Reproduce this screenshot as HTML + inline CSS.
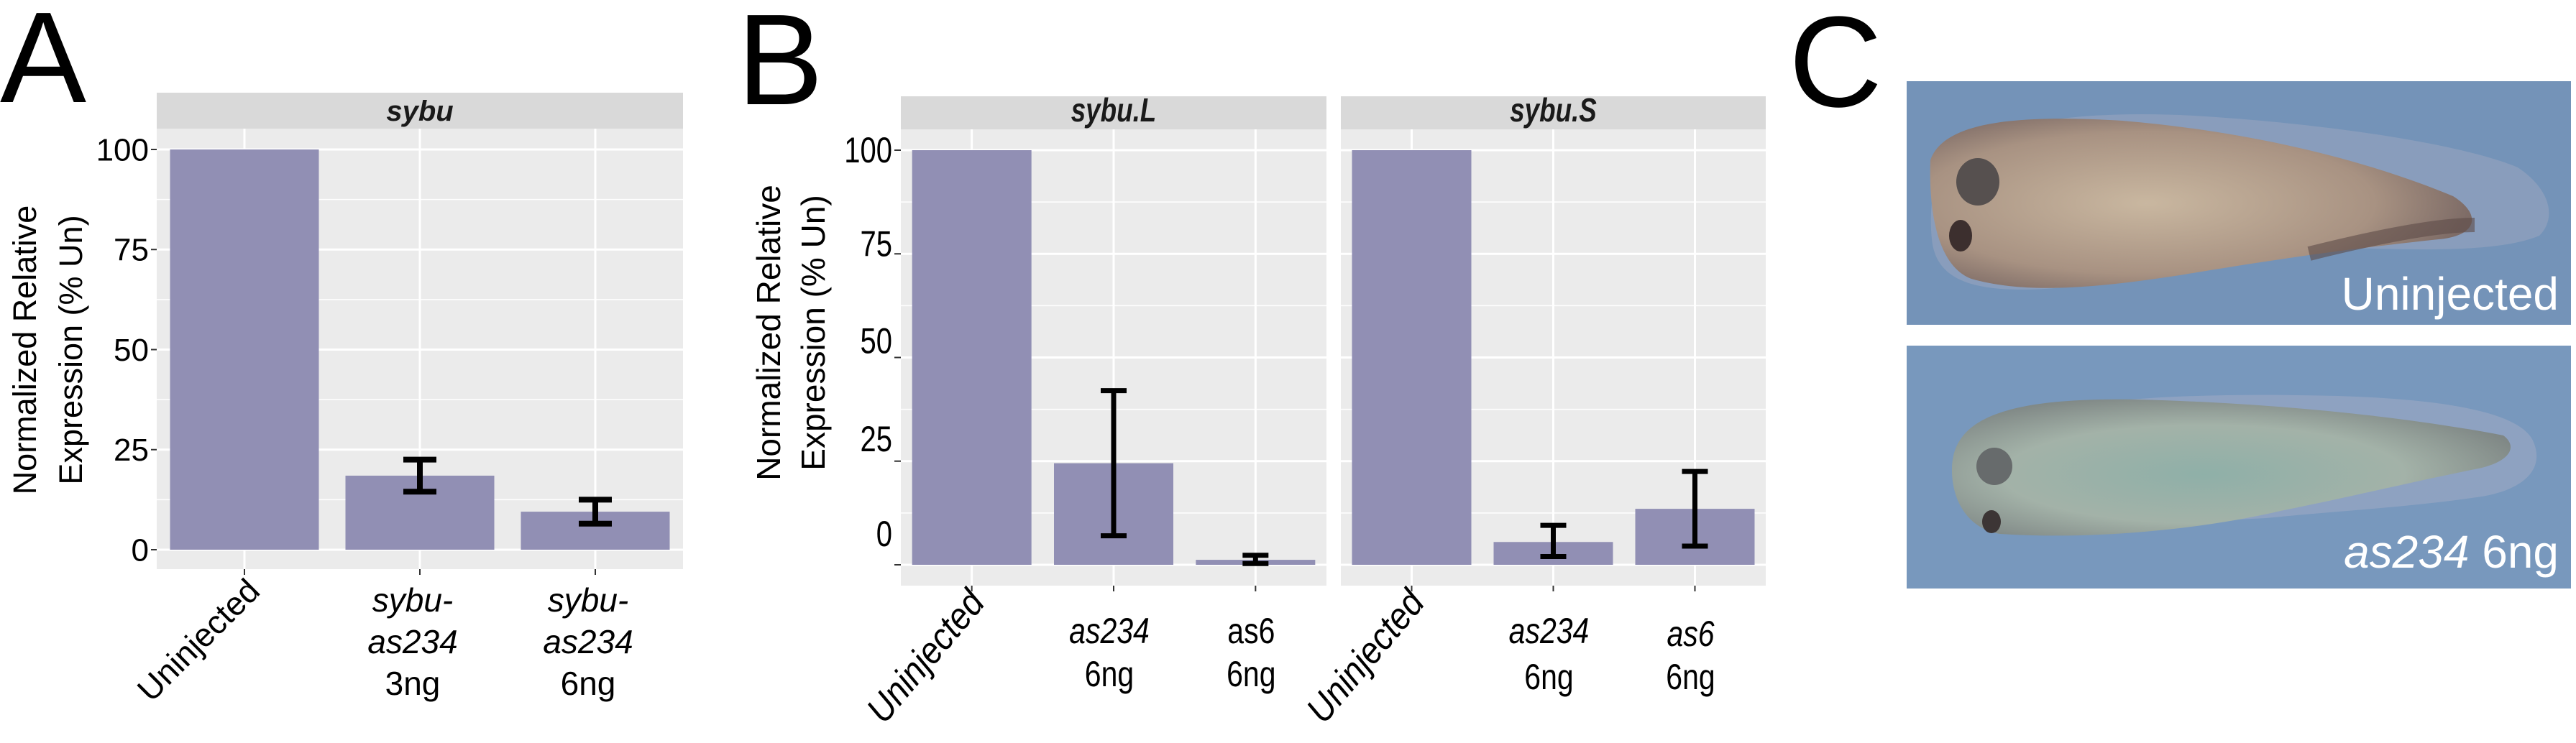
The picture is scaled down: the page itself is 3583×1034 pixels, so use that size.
<!DOCTYPE html>
<html><head><meta charset="utf-8"><style>
html,body{margin:0;padding:0;background:#fff;}
svg{display:block;font-family:"Liberation Sans",sans-serif;}
</style></head><body>
<svg id="fig" width="3583" height="1034" viewBox="0 0 3583 1034" xmlns="http://www.w3.org/2000/svg">
<defs>
<radialGradient id="body1" cx="0.4" cy="0.5" r="0.6"><stop offset="0" stop-color="#c9b7a0"/><stop offset="0.7" stop-color="#a89282"/><stop offset="1" stop-color="#7d6b66"/></radialGradient>
<radialGradient id="body2" cx="0.45" cy="0.55" r="0.6"><stop offset="0" stop-color="#8fb0a8"/><stop offset="0.6" stop-color="#a3b2a8"/><stop offset="1" stop-color="#7f8785"/></radialGradient>
</defs>
<text x="0" y="142" font-size="180">A</text>
<text x="1025" y="145" font-size="180">B</text>
<text x="2488" y="148" font-size="180">C</text>
<g id="chartA"></g>
<g id="chartB"></g>
<g transform="translate(2652,113)">
<rect width="924" height="339" fill="#7493b8"/>
<path d="M60,105 C120,55 250,40 400,48 C600,60 780,90 850,120 C895,150 905,190 880,215 C820,240 700,235 560,230 C420,260 250,290 160,290 C80,290 40,270 35,220 C30,170 40,120 60,105Z" fill="#8ea0bd" opacity="0.8"/>
<path d="M33,110 C50,60 140,45 300,55 C480,70 640,110 760,160 C800,185 795,215 740,220 C600,235 500,250 380,270 C250,290 160,295 90,275 C50,260 30,200 33,110Z" fill="url(#body1)"/>
<ellipse cx="99" cy="140" rx="30" ry="33" fill="#56504f"/>
<ellipse cx="75" cy="215" rx="16" ry="22" fill="#3c2f2e"/>
<path d="M560,240 C660,215 740,200 790,200" stroke="#5e4b48" stroke-width="20" fill="none" opacity="0.6"/>
<text x="907" y="318" font-size="64" fill="#fff" text-anchor="end">Uninjected</text>
</g>
<g transform="translate(2652,481)">
<rect width="924" height="338" fill="#7898bd"/>
<path d="M70,140 C150,70 400,65 600,70 C760,75 850,95 870,130 C890,170 860,200 800,210 C700,225 600,230 500,240 L200,255 C120,255 70,210 70,140Z" fill="#93a5c2" opacity="0.8"/>
<path d="M63,170 C65,100 140,72 320,75 C520,80 700,100 830,125 C850,140 840,160 800,170 C700,190 620,210 520,230 C400,258 250,270 130,262 C85,255 62,215 63,170Z" fill="url(#body2)"/>
<ellipse cx="122" cy="168" rx="25" ry="26" fill="#676b6c"/>
<ellipse cx="118" cy="245" rx="13" ry="16" fill="#3c3535"/>
<text x="907" y="309" font-size="64" fill="#fff" text-anchor="end"><tspan font-style="italic">as234</tspan> 6ng</text>
</g>
</svg>
<script>
// Panel A data
const catsA = ["Uninjected", "sybu-as234 3ng", "sybu-as234 6ng"];
const valsA = [100, 18.5, 9.5];
const errHiA = [null, 22.5, 12.5];
const errLoA = [null, 14.5, 6.5];
// Panel B data
const catsB = ["Uninjected", "as234 6ng", "as6 6ng"];
const valsBL = [100, 24.5, 1.2];
const errHiBL = [null, 42, 2.3];
const errLoBL = [null, 7, 0.3];
const valsBS = [100, 5.5, 13.5];
const errHiBS = [null, 9.5, 22.5];
const errLoBS = [null, 2, 4.5];
const ticks = [0, 25, 50, 75, 100];
const minor = [12.5, 37.5, 62.5, 87.5];

const NS = "http://www.w3.org/2000/svg";
function mk(parent, tag, attrs) {
  const e = document.createElementNS(NS, tag);
  for (const k in attrs) e.setAttribute(k, attrs[k]);
  parent.appendChild(e);
  return e;
}
function facet(g, o) {
  const y = v => o.y0px - (o.y0px - o.y100px) * v / 100;
  const n = o.vals.length;
  const step = (o.x1 - o.x0) / n;
  const xc = i => o.x0 + step * (i + 0.5);
  const strip = mk(g, "rect", {x: o.x0, y: o.stripTop, width: o.x1 - o.x0, height: o.stripBot - o.stripTop, fill: "#d9d9d9"});
  
  
  const st = mk(g, "text", {transform: `translate(${(o.x0 + o.x1) / 2},${o.stripBot - 11}) scale(${o.stripSx},1)`, "font-size": o.stripFs, "font-weight": "bold", "font-style": "italic", "text-anchor": "middle", fill: "#1a1a1a"});
  st.textContent = o.title;
  
  
  const bg = mk(g, "rect", {x: o.x0, y: o.stripBot, width: o.x1 - o.x0, height: o.panelBot - o.stripBot, fill: "#ebebeb"});
  
  
  minor.forEach(v => {
    const l = mk(g, "line", {x1: o.x0, x2: o.x1, y1: y(v), y2: y(v), stroke: "#fff", "stroke-width": 1.5});
    
    
  });
  ticks.forEach(v => {
    const l = mk(g, "line", {x1: o.x0, x2: o.x1, y1: y(v), y2: y(v), stroke: "#fff", "stroke-width": 3});
    
    
  });
  for (let i = 0; i < n; i++) {
    const l = mk(g, "line", {x1: xc(i), x2: xc(i), y1: o.stripBot, y2: o.panelBot, stroke: "#fff", "stroke-width": 3});
    
    
    const t = mk(g, "line", {x1: xc(i), x2: xc(i), y1: o.panelBot, y2: o.panelBot + 8, stroke: "#333", "stroke-width": 2});
    
    
  }
  for (let i = 0; i < n; i++) {
    const b = mk(g, "rect", {x: xc(i) - o.barW / 2, y: y(o.vals[i]), width: o.barW, height: y(0) - y(o.vals[i]), fill: "#918fb4"});
    
    
    if (o.hi[i] !== null) {
      const eg = mk(g, "path", {d: `M${xc(i) - o.capW / 2},${y(o.hi[i])}H${xc(i) + o.capW / 2}M${xc(i)},${y(o.hi[i])}V${y(o.lo[i])}M${xc(i) - o.capW / 2},${y(o.lo[i])}H${xc(i) + o.capW / 2}`, stroke: "#000", "stroke-width": o.sw, fill: "none"});
      
      
    }
  }
  return xc;
}
function ytickLabels(g, x, yfun, fs, sx, offsets) {
  ticks.forEach((v, i) => {
    const t = mk(g, "text", {x: 0, y: 0, "font-size": fs, "text-anchor": "end", transform: `translate(${x},${yfun(v) + (offsets ? offsets[i] : fs * 0.35)}) scale(${sx},1)`});
    t.textContent = v;
    
    
  });
}
// Panel A
const gA = document.getElementById("chartA");
const yA = v => 765 - (765 - 208) * v / 100;
const xcA = facet(gA, {x0: 218, x1: 950, stripTop: 129, stripBot: 179, panelBot: 792, y0px: 765, y100px: 208, barW: 207, vals: valsA, hi: errHiA, lo: errLoA, title: "sybu", stripFs: 40, stripSx: 1, capW: 46, sw: 8});
ytickLabels(gA, 207, yA, 44, 1);
ticks.forEach(v => { const t = mk(gA, "line", {x1: 210, x2: 218, y1: yA(v), y2: yA(v), stroke: "#333", "stroke-width": 2});   });
{
  const t = mk(gA, "text", {transform: "translate(50,487) rotate(-90)", "font-size": 45, "text-anchor": "middle"});
  t.textContent = "Normalized Relative";
   
  const t2 = mk(gA, "text", {transform: "translate(114,487) rotate(-90)", "font-size": 45, "text-anchor": "middle"});
  t2.textContent = "Expression (% Un)";
   
  const u = mk(gA, "text", {transform: `translate(${xcA(0) + 24},825) rotate(-45)`, "font-size": 46, "text-anchor": "end"});
  u.textContent = catsA[0];
   
  [1, 2].forEach(i => {
    const parts = catsA[i].split(" ");
    const lines = [["sybu-", true], [parts[0].replace("sybu-", ""), true], [parts[1], false]];
    lines.forEach((ln, j) => {
      const t = mk(gA, "text", {x: xcA(i) - 10, y: 851 + j * 58, "font-size": 46, "text-anchor": "middle", "font-style": ln[1] ? "italic" : "normal"});
      t.textContent = ln[0];
       
    });
  });
}
// Panel B
const gB = document.getElementById("chartB");
const yB = v => 786 - (786 - 209) * v / 100;
const xcL = facet(gB, {x0: 1253, x1: 1845, stripTop: 134, stripBot: 180, panelBot: 815, y0px: 786, y100px: 209, barW: 166, vals: valsBL, hi: errHiBL, lo: errLoBL, title: "sybu.L", stripFs: 46, stripSx: 0.8, capW: 36, sw: 7});
const xcS = facet(gB, {x0: 1865, x1: 2456, stripTop: 134, stripBot: 180, panelBot: 815, y0px: 786, y100px: 209, barW: 166, vals: valsBS, hi: errHiBS, lo: errLoBS, title: "sybu.S", stripFs: 46, stripSx: 0.8, capW: 36, sw: 7});
ytickLabels(gB, 1241, yB, 50, 0.8, [-26, -14, -6, 3, 17]);
ticks.forEach(v => { const t = mk(gB, "line", {x1: 1244, x2: 1253, y1: yB(v), y2: yB(v), stroke: "#333", "stroke-width": 2});   });
{
  const t = mk(gB, "text", {transform: "translate(1085,463) rotate(-90)", "font-size": 46, "text-anchor": "middle"});
  t.textContent = "Normalized Relative";
   
  const t2 = mk(gB, "text", {transform: "translate(1147,463) rotate(-90)", "font-size": 46, "text-anchor": "middle"});
  t2.textContent = "Expression (% Un)";
   
  [xcL, xcS].forEach((xc, f) => {
    const u = mk(gB, "text", {transform: `translate(${xc(0) + 20},840) rotate(-50) scale(0.9,1)`, "font-size": 52, "text-anchor": "end", "font-style": "italic"});
    u.textContent = catsB[0];
     
    [1, 2].forEach(i => {
      const parts = catsB[i].split(" ");
      const it = !(f === 0 && i === 2);
      const a = mk(gB, "text", {transform: `translate(${xc(i) - 6},${895 + (f && i === 2 ? 4 : 0)}) scale(0.82,1)`, "font-size": 50, "text-anchor": "middle", "font-style": it ? "italic" : "normal"});
      a.textContent = parts[0];
       
      const b = mk(gB, "text", {transform: `translate(${xc(i) - 6},${955 + (f ? 4 : 0)}) scale(0.82,1)`, "font-size": 50, "text-anchor": "middle"});
      b.textContent = parts[1];
       
    });
  });
}
</script>
</body></html>
